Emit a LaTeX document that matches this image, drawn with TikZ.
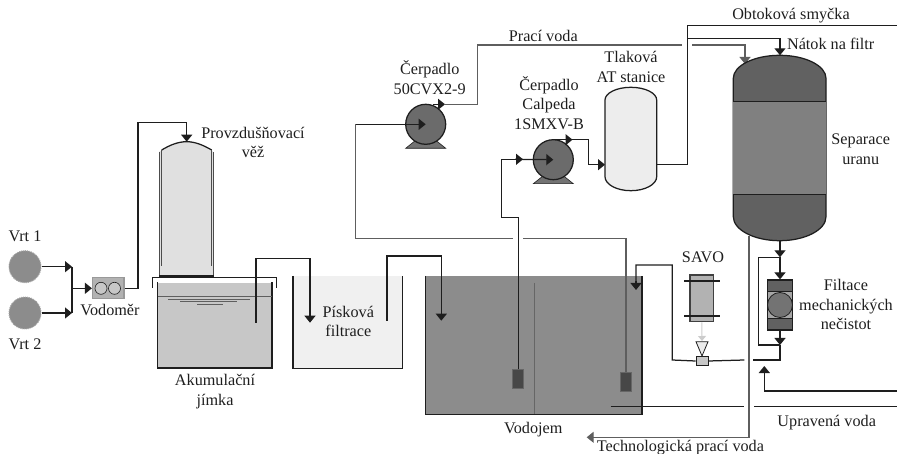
\documentclass[tikz,border=0pt]{standalone}
\usepackage{fontspec}
\setmainfont{Liberation Serif}
\usetikzlibrary{arrows.meta}
\definecolor{inkc}{HTML}{1E1E1E}
\definecolor{washc}{HTML}{5E5E5E}
\tikzset{
  label/.style={align=center,inner sep=0pt,text=inkc,font=\fontsize{16.2}{19.8}\selectfont},
  pipe/.style={draw=inkc,line width=1.25pt},
  pipearrow/.style={pipe,-{Triangle[length=7pt,width=11pt]}},
  washpipe/.style={draw=washc,line width=1.25pt},
  washarrow/.style={washpipe,-{Triangle[length=7pt,width=11pt]}},
  wall/.style={draw=inkc,line width=1.25pt},
  box/.style={rectangle,inner sep=0pt,draw=inkc,line width=1.25pt},
  pumpbody/.style={circle,inner sep=0pt,minimum size=40pt,fill=black!58,draw=inkc,line width=1.25pt},
  wellbody/.style={circle,inner sep=0pt,minimum size=32pt,fill=black!45,draw=black!35,densely dotted,line width=1pt},
  strainer/.style={rectangle,inner sep=0pt,minimum width=11pt,minimum height=19pt,fill=black!72,draw=black!60,line width=.5pt}
}
\newcommand{\domed}[7]{\path[#1] (#2,#4) .. controls (#2,{#4-.55*(#4-#3)}) and ({.5*(#2+#6)-.55*.5*(#6-#2)},#3) .. ({.5*(#2+#6)},#3) .. controls ({.5*(#2+#6)+.55*.5*(#6-#2)},#3) and (#6,{#4-.55*(#4-#3)}) .. (#6,#4) -- (#6,#5) .. controls (#6,{#5+.55*(#7-#5)}) and ({.5*(#2+#6)+.55*.5*(#6-#2)},#7) .. ({.5*(#2+#6)},#7) .. controls ({.5*(#2+#6)-.55*.5*(#6-#2)},#7) and (#2,{#5+.55*(#7-#5)}) .. (#2,#5) -- cycle;}
\begin{document}
\begin{tikzpicture}[x=1pt,y=-1pt]
\useasboundingbox (0,0) rectangle (897,454);
% wells and meter
\node[wellbody] (vrtA) at (25,266.7) {};
\node[wellbody] (vrtB) at (25,313) {};
\node[box,minimum width=31.5pt,minimum height=21pt,fill=black!30,draw=black!40] (vodomer) at (108.3,288.3) {};
\node[circle,minimum size=12pt,inner sep=0pt,fill=black!22,draw=inkc,line width=.6pt] (rotorA) at (101,288.3) {};
\node[circle,minimum size=12pt,inner sep=0pt,fill=black!22,draw=inkc,line width=.6pt] (rotorB) at (114.5,288.3) {};
\coordinate (collector) at (72,288.3);
\draw[pipearrow] (vrtA.east) -- (vrtA.east -| collector);
\draw[pipearrow] (vrtB.east) -- (vrtB.east -| collector);
\draw[pipe] (72,266.7) -- (72,313);
\draw[pipearrow] (collector) -- (vodomer.west);
% aeration tower
\fill[black!12] (159,152) -- (161.7,150) .. controls (170,145) and (178,141.7) .. (186.7,141.7) .. controls (195,141.7) and (203,145) .. (211.7,150) -- (213,152) -- (213,275.7) -- (159,275.7) -- cycle;
\draw[wall] (161.7,150) .. controls (170,145) and (178,141.7) .. (186.7,141.7) .. controls (195,141.7) and (203,145) .. (211.7,150);
\draw[wall,draw=black!70] (161.7,150) -- (161.7,266) (211.7,150) -- (211.7,266);
\draw[wall,draw=black!70] (159.3,152) -- (159.3,275.7) (213.3,152) -- (213.3,275.7);
\draw[inkc,line width=1.8pt] (159,275.7) -- (213.5,275.7);
\coordinate (towertop) at (186.7,141.7);
\draw[pipe] (vodomer.east) -- (138,288.3) |- (186.7,122.7) -- (186.7,136);
\draw[pipearrow] (186.7,130) -- (towertop);
% storage sump
\node[rectangle,inner sep=0pt,minimum width=114pt,minimum height=85pt,fill=black!22] (jimka) at (214.7,325.2) {};
\draw[wall] (jimka.north west) -- (jimka.south west) -- (jimka.south east) -- (jimka.north east);
\draw[wall] (152.7,287.7) -- (152.7,277.7) -- (276.7,277.7) -- (276.7,287.7);
\draw[washpipe] (157.7,296.7) -- (271.7,296.7);
\draw[washpipe,line width=.7pt] (168,299) -- (250,299) (180,301.3) -- (237,301.3) (197,304) -- (223,304);
% sand filter
\node[rectangle,inner sep=0pt,minimum width=109pt,minimum height=92pt,fill=black!6] (piskova) at (347.8,322) {};
\draw[wall] (piskova.north west) -- (piskova.south west) -- (piskova.south east) -- (piskova.north east);
% reservoir
\node[rectangle,inner sep=0pt,minimum width=216pt,minimum height=138pt,fill=black!45] (vodojem) at (533.7,345) {};
\draw[wall] (vodojem.north west) -- (vodojem.south west) -- (vodojem.south east) -- (vodojem.north east);
\draw[draw=black!60,line width=1pt] (534,283) -- (534,414);
\coordinate (jimkain) at (256,323);
\coordinate (pisin) at (310,322.7);
\coordinate (pisout) at (387,321);
\coordinate (vodin) at (441.3,320.7);
\draw[pipe] (jimkain) |- (310,258.7) -- (310,316);
\draw[pipearrow] (310,312) -- (pisin);
\draw[pipe] (pisout) |- (441.3,256) -- (441.3,316);
\draw[pipearrow] (441.3,312) -- (vodin);
% pumps
\foreach \x/\y in {425.7/124.3,553.3/159.7}
  \fill[black!55,draw=inkc,line width=.6pt] (\x-20,\y+24) -- (\x-10,\y+16) -- (\x+10,\y+16) -- (\x+20,\y+24) -- cycle;
\node[pumpbody] (cerpA) at (425.7,124.3) {};
\node[pumpbody] (cerpB) at (553.3,159.7) {};
\node[strainer] (sacA) at (518.2,379) {};
\node[strainer] (sacB) at (626,382) {};
\draw[pipe] (sacA.north) |- (501.3,217.3) |- (516,159.3);
\draw[pipearrow] (501.3,159.3) -- (523,159.3);
\draw[pipearrow] (515,159.3) -- (cerpB.center);
\draw[washpipe] (355.7,124.3) |- (513.3,238.3);
\draw[pipe] (395,124.3) -- (355.7,124.3);
\draw[washpipe] (523,238.3) -| (sacB.north);
\draw[pipearrow] (395,124.3) -- (cerpA.center);
\draw[pipearrow] (433,104.3) -- (445,104.3);
\draw[washpipe] (445,104.3) -- (477.7,104.3) |- (681.7,45);
\draw[washpipe] (692.3,45) -- (745,45) -- (745,58);
\draw[washarrow] (745,54) -- (745,64);
% pressure station
\domed{fill=black!7,draw=inkc,line width=1.25pt}{605}{87.3}{100}{176.7}{656.7}{190.7}
\coordinate (atin) at (605,164.7);
\coordinate (atout) at (656.7,164.7);
\draw[pipearrow] (551.7,139.7) -- (572.5,139.7);
\draw[pipe] (572,139.7) -- (588.3,139.7) -- (588.3,164.7) -- (600,164.7);
\draw[pipearrow] (595,164.7) -- (atin);
\draw[pipe] (atout) -- (687.7,164.7) -- (687.7,25.3) -- (897,25.3);
\draw[pipe] (687.7,38.3) -- (780,38.3) -- (780,50);
% separator
\domed{fill=black!62,draw=inkc,line width=1.25pt}{733.3}{55.3}{78.3}{216.7}{826}{240.7}
\node[rectangle,inner sep=0pt,minimum width=92.7pt,minimum height=92.6pt,fill=black!50] (separace) at (779.7,148) {};
\draw[wall] (separace.north west) -- (separace.north east) (separace.south west) -- (separace.south east);
\draw[pipearrow] (780,46) -- (780,55.3);
% filter
\node[box,minimum width=25.4pt,minimum height=50pt,fill=black!62] (mech) at (780,305) {};
\node[rectangle,inner sep=0pt,minimum width=25.4pt,minimum height=26.6pt,fill=black!35,draw=inkc,line width=.8pt] (mechmid) at (780,305) {};
\node[circle,inner sep=0pt,minimum size=25pt,fill=black!55,draw=inkc,line width=.8pt] (mechrotor) at (780,305) {};
\coordinate (sepout) at (780,240.7);
\coordinate (bypassA) at (780,257.3);
\coordinate (bypassB) at (780,345);
\coordinate (outjoin) at (780,360);
\draw[pipearrow] (sepout) -- (bypassA);
\draw[pipearrow] (bypassA) -- (mech.north);
\draw[pipe] (bypassA) -- (758.3,257.3) -- (758.3,345) -- (bypassB);
\draw[pipearrow] (mech.south) -- (bypassB);
\draw[pipe] (bypassB) -- (outjoin) -- (753.3,360);
% activated carbon dosing
\node[box,minimum width=23.7pt,minimum height=46.7pt,fill=black!30,draw=black!75] (savo) at (701.9,298.3) {};
\draw[pipe] (684,281) -- (720,281) (684,316) -- (720,316);
\node[rectangle,inner sep=0pt,minimum width=12pt,minimum height=8.6pt,fill=black!22,draw=inkc,line width=.8pt] (ventil) at (702,361) {};
\draw[draw=black!20,line width=1pt,-{Triangle[length=5pt,width=8pt]}] (savo.south) -- (702,341);
\fill[black!8,draw=inkc,line width=.8pt] (696,341.7) -- (708,341.7) -- (702,356) -- cycle;
\coordinate (vodret) at (636,290);
\draw[pipe] (744.3,360) -- (ventil.east) (ventil.west) -- (672.3,360) -- (672.3,265) -- (636,265) -- (636,285);
\draw[pipearrow] (636,281) -- (vodret);
% bypass of wash water
\coordinate (techend) at (586.7,437.3);
\draw[washpipe] (749,236) -- (749,437.3) -- (592,437.3);
\draw[washarrow] (596,437.3) -- (techend);
% treated water
\coordinate (vratka) at (764.3,366);
\draw[pipe] (897,391) -- (764.3,391) -- (764.3,372);
\draw[pipearrow] (764.3,376) -- (vratka);
\draw[pipe] (610.7,406.7) -- (744.3,406.7) (754,406.7) -- (897,406.7);
% labels
\node[label] (vrtAtxt) at (25,236) {Vrt 1};
\node[label] (vrtBtxt) at (25,344.3) {Vrt 2};
\node[label] (vodomertxt) at (110,310) {Vodoměr};
\node[label] (vezitxt) at (253,142.5) {Provzdušňovací\\věž};
\node[label] (jimkatxt) at (215,391.7) {Akumulační\\jímka};
\node[label] (pisktxt) at (348.3,321.5) {Písková\\filtrace};
\node[label] (vodojemtxt) at (533.3,430) {Vodojem};
\node[label,anchor=west] (techtxt) at (596.7,448) {Technologická prací voda};
\node[label] (upravtxt) at (826.7,422.7) {Upravená voda};
\node[label] (mechtxt) at (846,304.5) {Filtace\\mechanických\\nečistot};
\node[label] (septxt) at (860.7,149.5) {Separace\\uranu};
\node[label] (natoktxt) at (830.7,44) {Nátok na filtr};
\node[label] (obtoktxt) at (791,16) {Obtoková smyčka};
\node[label] (tlaktxt) at (631,67) {Tlaková\\AT stanice};
\node[label] (pracitxt) at (543.3,35.7) {Prací voda};
\node[label] (cerpAtxt) at (429.7,78) {Čerpadlo\\50CVX2-9};
\node[label] (cerpBtxt) at (549,103) {Čerpadlo\\Calpeda\\1SMXV-B};
\node[label] (savotxt) at (703,257) {SAVO};
\end{tikzpicture}
\end{document}
